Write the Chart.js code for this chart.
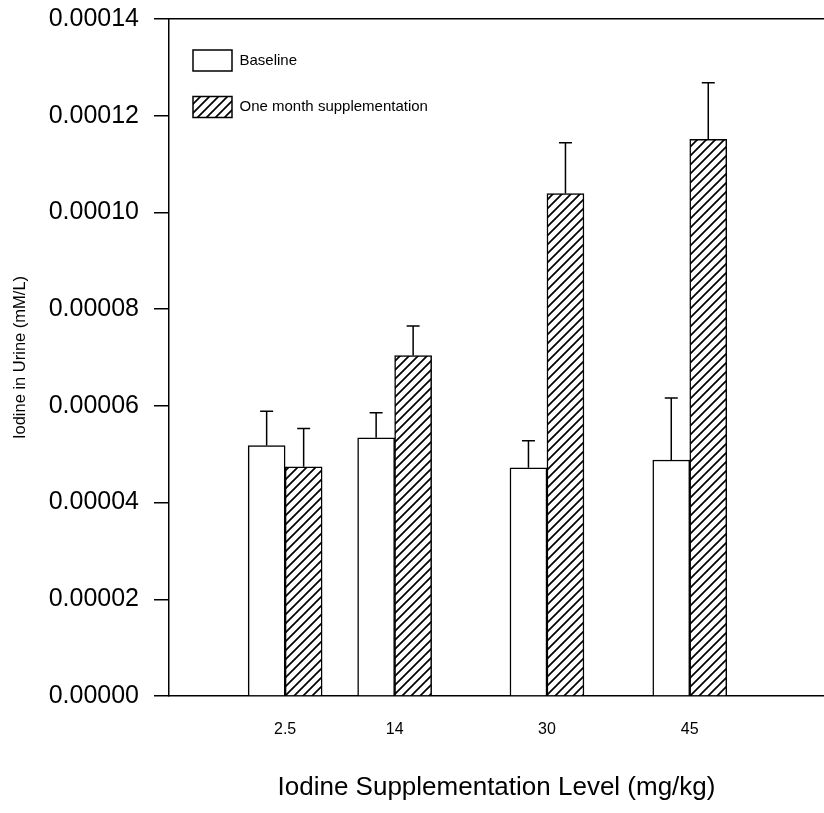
<!DOCTYPE html>
<html>
<head>
<meta charset="utf-8">
<script src="https://cdn.jsdelivr.net/npm/chart.js@4.4.1/dist/chart.umd.min.js"></script>
<style>
  html, body { margin: 0; padding: 0; background: #fff; }
</style>
</head>
<body>
<canvas id="barChart" width="824" height="813"></canvas>
<script>
// Supplementation levels (mg/kg) - also used as x tick labels
const levels = [2.5, 14, 30, 45];

// Urine iodine (mM/L)
const baseline = [0.0000518, 0.0000534, 0.0000472, 0.0000488];
const baselineErr = [0.0000071, 0.0000052, 0.0000056, 0.0000128];
const supplemented = [0.0000474, 0.0000704, 0.0001039, 0.0001151];
const supplementedErr = [0.0000079, 0.0000061, 0.0000105, 0.0000117];

const yMin = 0;
const yMax = 0.00014;
const yStep = 0.00002;

const FONT = 'Arial, "Liberation Sans", Helvetica, sans-serif';

// diagonal hatch fill for the supplementation bars
function hatch() {
    const size = 9;
    const c = document.createElement('canvas');
    c.width = size;
    c.height = size;
    const g = c.getContext('2d');
    g.fillStyle = '#fff';
    g.fillRect(0, 0, size, size);
    g.strokeStyle = '#000';
    g.lineWidth = 1.7;
    g.beginPath();
    g.moveTo(-1, size + 1); g.lineTo(size + 1, -1);
    g.moveTo(-size / 2 - 1, size / 2 + 1); g.lineTo(size / 2 + 1, -size / 2 - 1);
    g.moveTo(size / 2 - 1, size * 1.5 + 1); g.lineTo(size * 1.5 + 1, size / 2 - 1);
    g.stroke();
    return g.createPattern(c, 'repeat');
}

// upper error bars, drawn from the bar elements and the y scale
const errorBars = {
    id: 'errorBars',
    afterDatasetsDraw(chart) {
        const { ctx } = chart;
        const y = chart.scales.y;
        ctx.save();
        ctx.strokeStyle = '#000';
        ctx.lineWidth = 1.5;
        chart.data.datasets.forEach((ds, i) => {
            chart.getDatasetMeta(i).data.forEach((bar, j) => {
                const top = y.getPixelForValue(ds.data[j].y + ds.errors[j]);
                ctx.beginPath();
                ctx.moveTo(bar.x, bar.y);
                ctx.lineTo(bar.x, top);
                ctx.moveTo(bar.x - 6.5, top);
                ctx.lineTo(bar.x + 6.5, top);
                ctx.stroke();
            });
        });
        ctx.restore();
    }
};

// put the legend in the upper left corner of the plot
const legendInside = {
    id: 'legendInside',
    beforeDraw(chart) {
        const lg = chart.legend;
        const ca = chart.chartArea;
        const pad = lg.options.labels.padding;
        lg.left = ca.left + 24 - pad;
        lg.top = ca.top + 31 - pad;
        lg.right = ca.right;
        lg.bottom = ca.bottom;
    }
};

const ctx = document.getElementById('barChart').getContext('2d');
const chart = new Chart(ctx, {
    type: 'bar',
    data: {
        datasets: [{
            label: 'Baseline',
            data: levels.map((x, i) => ({ x: x, y: baseline[i] })),
            errors: baselineErr,
            backgroundColor: '#fff',
            borderColor: '#000',
            borderWidth: 1.5,
            barThickness: 37
        }, {
            label: 'One month supplementation',
            data: levels.map((x, i) => ({ x: x, y: supplemented[i] })),
            errors: supplementedErr,
            backgroundColor: hatch(),
            borderColor: '#000',
            borderWidth: 1.5,
            barThickness: 37
        }]
    },
    options: {
        responsive: false,
        animation: false,
        layout: { padding: { top: 19, left: 0, right: 0, bottom: 0 } },
        plugins: {
            tooltip: { enabled: false },
            legend: {
                position: 'chartArea',
                align: 'start',
                labels: {
                    boxWidth: 39,
                    boxHeight: 21,
                    padding: 25.5,
                    color: '#000',
                    font: { family: FONT, size: 15 }
                }
            }
        },
        scales: {
            x: {
                type: 'linear',
                position: 'bottom',
                min: -9.7,
                max: 59.1,
                offset: false,
                afterBuildTicks: s => { s.ticks = levels.map(v => ({ value: v })); },
                afterFit: s => { s.height = 117; s.paddingLeft = 0; s.paddingRight = 0; },
                grid: { display: false, drawTicks: false, offset: false },
                border: { display: true, color: '#000', width: 1.5 },
                ticks: {
                    padding: 24,
                    color: '#000',
                    font: { family: FONT, size: 16 },
                    callback: v => String(v)
                },
                title: {
                    display: true,
                    text: 'Iodine Supplementation Level (mg/kg)',
                    color: '#000',
                    font: { family: FONT, size: 26 },
                    padding: { top: 0, bottom: 10 }
                }
            },
            x2: {
                type: 'linear',
                position: 'top',
                min: -9.7,
                max: 59.1,
                afterFit: s => { s.height = 0; s.paddingLeft = 0; s.paddingRight = 0; },
                grid: { display: false, drawTicks: false },
                border: { display: true, color: '#000', width: 1.5 },
                ticks: { display: false }
            },
            y: {
                min: yMin,
                max: yMax,
                afterFit: s => { s.width = 169; s.paddingTop = 0; s.paddingBottom = 0; },
                grid: {
                    drawOnChartArea: false,
                    drawTicks: true,
                    tickLength: 15,
                    color: '#000',
                    lineWidth: 1.5
                },
                border: { display: true, color: '#000', width: 1.5 },
                ticks: {
                    stepSize: yStep,
                    padding: 15,
                    color: '#000',
                    font: { family: FONT, size: 25 },
                    callback: v => v.toFixed(5)
                },
                title: {
                    display: true,
                    text: 'Iodine in Urine (mM/L)',
                    color: '#000',
                    font: { family: FONT, size: 16.5 },
                    padding: { top: 11, bottom: 0 }
                }
            }
        }
    },
    plugins: [errorBars, legendInside]
});
</script>
</body>
</html>
